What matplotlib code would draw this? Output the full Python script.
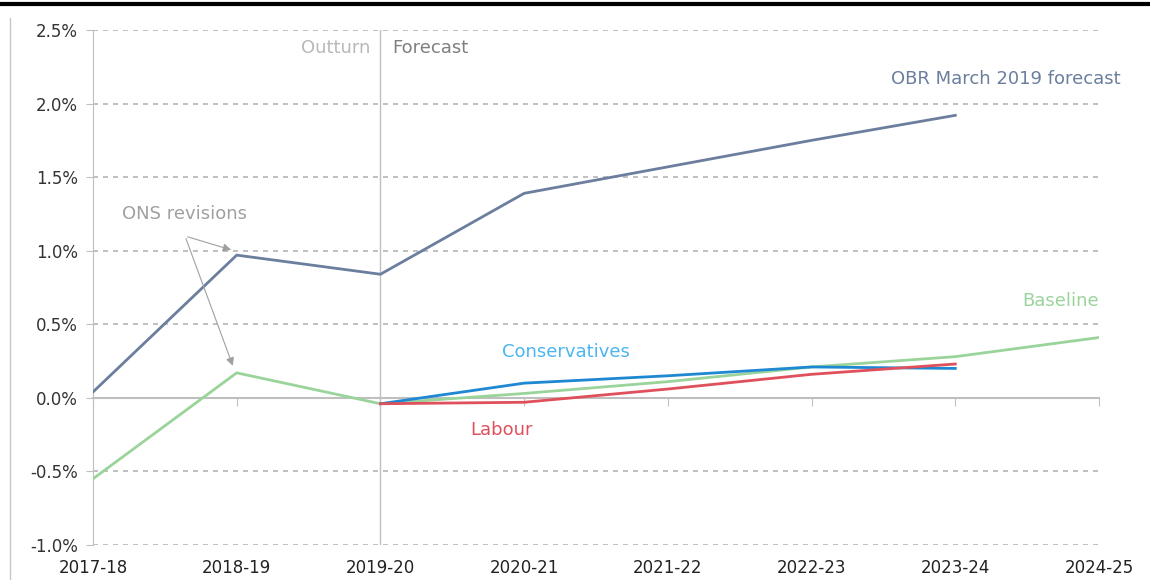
import matplotlib
matplotlib.use("Agg")
import matplotlib.pyplot as plt
from matplotlib.lines import Line2D

years = ["2017-18", "2018-19", "2019-20", "2020-21", "2021-22", "2022-23", "2023-24", "2024-25"]
obr = [0.04, 0.97, 0.84, 1.39, 1.57, 1.75, 1.92]
baseline = [-0.55, 0.17, -0.04, 0.03, 0.11, 0.21, 0.28, 0.41]
conservatives = [-0.04, 0.10, 0.15, 0.21, 0.20]
labour = [-0.04, -0.03, 0.06, 0.16, 0.23]
yticks = [-1.0, -0.5, 0.0, 0.5, 1.0, 1.5, 2.0, 2.5]

plt.rcParams['font.family'] = ['DejaVu Sans']
fig = plt.figure(figsize=(11.5, 5.8), dpi=100)
ax = fig.add_axes([93/1150, 35/580, (1099-93)/1150, (545-30)/580])

c_obr = "#6B7E9E"
c_base = "#9AD49B"
c_con = "#1E88D2"
c_con_t = "#4BB6EE"
c_lab = "#E0505C"
grey = "#BFBFBF"

x_all = list(range(len(years)))
ax.set_xlim(0, len(years) - 1)
ax.set_ylim(-1.0, 2.5)

for y in yticks:
    if y != 0:
        ax.axhline(y, color="#B5B5B5", lw=1.2, ls=(0, (3, 3)), zorder=1)
ax.axvline(2, color=grey, lw=1, zorder=1)

ax.plot(x_all[:len(obr)], obr, color=c_obr, lw=2, zorder=3)
ax.plot(x_all[:len(baseline)], baseline, color=c_base, lw=2, zorder=3)
ax.plot(x_all[2:2 + len(conservatives)], conservatives, color=c_con, lw=2, zorder=4)
ax.plot(x_all[2:2 + len(labour)], labour, color=c_lab, lw=2, zorder=4)

for s in ["top", "right"]:
    ax.spines[s].set_visible(False)
ax.spines["left"].set_color(grey)
ax.spines["bottom"].set_position(("data", 0))
ax.spines["bottom"].set_color(grey)
ax.spines["bottom"].set_linewidth(1.5)
ax.set_xticks(x_all)
ax.tick_params(axis="x", direction="out", length=6, color=grey, labelbottom=False)
ax.set_yticks(yticks)
ax.set_yticklabels([f"{v:.1f}%" for v in yticks], fontsize=12, color="#333333")
ax.tick_params(axis="y", length=5, color=grey, pad=6)

sec = ax.secondary_xaxis(location=0)
sec.set_xticks(x_all)
sec.set_xticklabels(years, fontsize=12, color="#222222")
sec.tick_params(length=0, pad=10)
sec.spines["bottom"].set_visible(False)

ax.text(7.15, 2.17, "OBR March 2019 forecast", color=c_obr, fontsize=13, ha="right", va="center", clip_on=False)
ax.text(7.0, 0.66, "Baseline", color=c_base, fontsize=13, ha="right", va="center")
ax.text(3.29, 0.31, "Conservatives", color=c_con_t, fontsize=13, ha="center", va="center")
ax.text(2.84, -0.22, "Labour", color=c_lab, fontsize=13, ha="center", va="center")
ax.text(1.93, 2.38, "Outturn", color="#B8B8B8", fontsize=13, ha="right", va="center")
ax.text(2.08, 2.38, "Forecast", color="#7F7F7F", fontsize=13, ha="left", va="center")
ax.text(0.64, 1.25, "ONS revisions", color="#A0A0A0", fontsize=13, ha="center", va="center")
for target in [(1, 0.97), (1, 0.17)]:
    ax.annotate("", xy=(target[0] - 0.02, target[1] + 0.03), xytext=(0.64, 1.1),
                arrowprops=dict(arrowstyle="-|>", color="#A0A0A0", lw=0.8, mutation_scale=12))

fig.add_artist(Line2D([0, 1], [1 - 4/580, 1 - 4/580], color="black", lw=3, transform=fig.transFigure))
fig.add_artist(Line2D([10/1150, 10/1150], [0, 1 - 18/580], color="#C8C8C8", lw=1, transform=fig.transFigure))

fig.savefig("out.png", dpi=100)
